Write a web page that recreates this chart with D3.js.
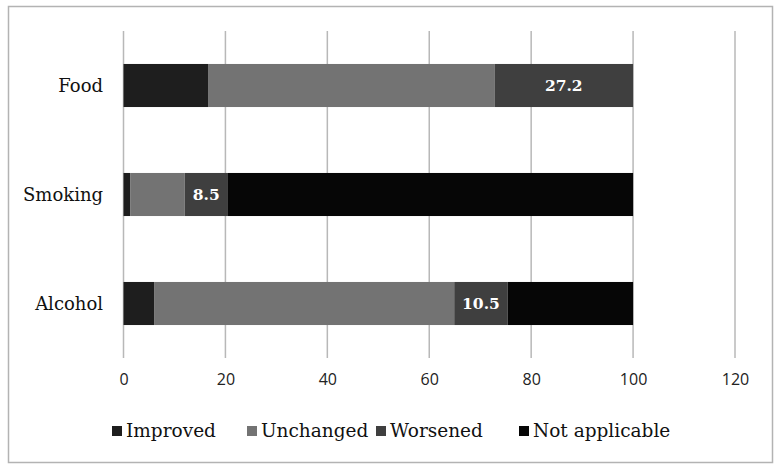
<!DOCTYPE html>
<html><head><meta charset="utf-8">
<script src="https://cdn.jsdelivr.net/npm/d3@7"></script>
<style>body{margin:0;background:#fff}svg{display:block}</style>
</head><body>
<script>
const categories = ["Food", "Smoking", "Alcohol"];
const seriesNames = ["Improved", "Unchanged", "Worsened", "Not applicable"];
const improved = [16.7, 1.3, 6.0];
const unchanged = [56.1, 10.7, 58.9];
const worsened = [27.2, 8.5, 10.5];
const notApplicable = [0, 79.5, 24.6];
const xTicks = [0, 20, 40, 60, 80, 100, 120];
const colors = ["#1e1e1e", "#737373", "#3f3f3f", "#060606"];

const W = 782, H = 473;
const svg = d3.select("body").append("svg").attr("width", W).attr("height", H);
svg.append("rect").attr("x", 8.5).attr("y", 6.5).attr("width", 764).attr("height", 456)
  .attr("fill", "#fff").attr("stroke", "#b3b3b3").attr("stroke-width", 1.5);

const x = d3.scaleLinear().domain([0, 120]).range([123.5, 735]);
const y = d3.scaleBand().domain(categories).range([31, 358]).paddingInner(0.605).paddingOuter(0.3025);

// gridlines
svg.append("g").selectAll("line").data(xTicks).join("line")
  .attr("x1", d => x(d)).attr("x2", d => x(d)).attr("y1", 31).attr("y2", 358)
  .attr("stroke", "#b8b8b8").attr("stroke-width", 1.5);

const rows = categories.map((c, i) => ({cat: c, Improved: improved[i], Unchanged: unchanged[i], Worsened: worsened[i], "Not applicable": notApplicable[i]}));
const stack = d3.stack().keys(seriesNames)(rows);

const g = svg.append("g");
stack.forEach((s, si) => {
  g.append("g").selectAll("rect").data(s).join("rect")
    .attr("x", d => x(d[0])).attr("width", d => Math.max(0, x(d[1]) - x(d[0])))
    .attr("y", d => y(d.data.cat)).attr("height", y.bandwidth())
    .attr("fill", colors[si]);
});

// data labels on Worsened
const ws = stack[2];
svg.append("g").selectAll("text").data(ws).join("text")
  .attr("x", d => (x(d[0]) + x(d[1])) / 2).attr("y", d => y(d.data.cat) + y.bandwidth() / 2)
  .attr("dy", "0.35em").attr("text-anchor", "middle")
  .attr("fill", "#fff").attr("font-family", "'DejaVu Serif', serif").attr("font-weight", "bold")
  .attr("font-size", 15.5).text(d => d.data.Worsened.toFixed(1));

// category labels
svg.append("g").selectAll("text").data(categories).join("text")
  .attr("x", 103).attr("y", d => y(d) + y.bandwidth() / 2).attr("dy", "0.35em")
  .attr("text-anchor", "end").attr("font-family", "'DejaVu Serif', serif").attr("font-size", 18)
  .attr("fill", "#111").text(d => d);

// x axis
const ax = svg.append("g").attr("transform", "translate(0,358)")
  .call(d3.axisBottom(x).tickValues(xTicks).tickSize(0).tickPadding(16));
ax.select(".domain").remove();
ax.selectAll("text").attr("font-family", "'Open Sans', sans-serif").attr("font-size", 16).attr("fill", "#222");

// legend
const legX = [112, 247, 376, 519];
const leg = svg.append("g").selectAll("g").data(seriesNames).join("g")
  .attr("transform", (d, i) => `translate(${legX[i]},431)`);
leg.append("rect").attr("x", 0).attr("y", -5).attr("width", 10).attr("height", 10).attr("fill", (d, i) => colors[i]);
leg.append("text").attr("x", 14).attr("dy", "0.35em").attr("font-family", "'DejaVu Serif', serif")
  .attr("font-size", 18.5).attr("fill", "#111").text(d => d);
</script>
</body></html>
